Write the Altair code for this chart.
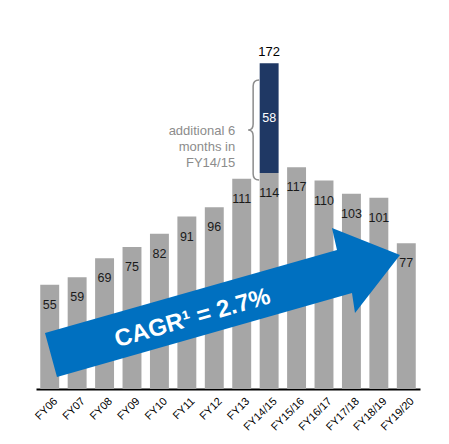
import altair as alt
import pandas as pd

categories = ["FY06", "FY07", "FY08", "FY09", "FY10", "FY11", "FY12", "FY13",
              "FY14/15", "FY15/16", "FY16/17", "FY17/18", "FY18/19", "FY19/20"]
values = [55, 59, 69, 75, 82, 91, 96, 111, 114, 117, 110, 103, 101, 77]
extra_category = ["FY14/15"]
extra_base = [114]
extra_value = [58]
extra_total = [172]
note_lines = "additional 6\nmonths in\nFY14/15"
cagr_text = "CAGR\u00b9 = 2.7%"

df = pd.DataFrame({"cat": categories, "value": values})
dfx = pd.DataFrame({"cat": extra_category, "base": extra_base,
                    "extra": extra_value, "total": extra_total})
dfx["mid"] = (dfx["base"] + dfx["total"]) / 2
dfx["note"] = note_lines
dfx["cagr"] = cagr_text

FONT = "Liberation Sans"
GRAY = "#A6A6A6"
NAVY = "#1F3864"
BLUE = "#0070C0"

xenc = alt.X("cat:N", sort=categories,
             scale=alt.Scale(paddingInner=0.31, paddingOuter=0.155),
             axis=alt.Axis(title=None, labelAngle=-45, ticks=False,
                           domainColor="black", domainWidth=2,
                           labelColor="black", labelFontSize=11, labelFont=FONT,
                           labelPadding=6, labelOffset=2))
yscale = alt.Scale(domain=[0, 180])

base = alt.Chart(df)
bars = base.mark_bar(color=GRAY).encode(
    x=xenc, y=alt.Y("value:Q", scale=yscale, axis=None))
labels = base.mark_text(baseline="middle", dy=20, fontSize=12.5, font=FONT,
                        color="#1a1a1a").encode(
    x=alt.X("cat:N", sort=categories), y=alt.Y("value:Q"), text="value:Q")

ex = alt.Chart(dfx)
navy = ex.mark_bar(color=NAVY).encode(
    x=alt.X("cat:N", sort=categories), y="base:Q", y2="total:Q")
lbl58 = ex.mark_text(color="white", fontSize=12.5, font=FONT, baseline="middle").encode(
    x=alt.X("cat:N", sort=categories), y="mid:Q", text="extra:Q")
lbl172 = ex.mark_text(color="black", fontSize=13, font=FONT, baseline="bottom", dy=-4).encode(
    x=alt.X("cat:N", sort=categories), y="total:Q", text="total:Q")

brace_path = "M 6 -50 Q 0 -50 0 -44 L 0 -6 Q 0 0 -5 0 Q 0 0 0 6 L 0 44 Q 0 50 6 50"
brace = ex.mark_point(shape=brace_path, size=4, filled=False, opacity=1,
                      stroke="#8C8C8C", strokeWidth=1.5, xOffset=-16).encode(
    x=alt.X("cat:N", sort=categories), y=alt.datum(136.7))
note = ex.mark_text(align="right", baseline="middle", fontSize=13, font=FONT,
                    color="#8C8C8C", lineBreak="\n", lineHeight=16, dx=-34).encode(
    x=alt.X("cat:N", sort=categories), y=alt.datum(136), text="note:N")

arrow_path = ("M -177 31 L 115 -52 L 110 -74 L 178 -47 L 133 11 "
              "L 130 -9 L -165 75 Z")
arrow = ex.mark_point(shape=arrow_path, size=4, filled=True, opacity=1,
                      fill=BLUE, strokeWidth=0, xOffset=7.7).transform_calculate(
    anchor="'FY12'").encode(
    x=alt.X("anchor:N", sort=categories), y=alt.datum(45.9))
cagr = ex.mark_text(color="white", fontSize=24, fontWeight="bold", font=FONT,
                    angle=344, baseline="middle", align="center", dx=6).transform_calculate(
    anchor="'FY11'").encode(
    x=alt.X("anchor:N", sort=categories), y=alt.datum(36.4), text="cagr:N")

chart = alt.layer(bars, labels, navy, lbl58, lbl172, brace, note, arrow, cagr).properties(
    width=384, height=341,
    autosize=alt.AutoSizeParams(type="none"),
    padding={"left": 28, "top": 40, "right": 20, "bottom": 47},
).configure_view(stroke=None)

chart.save("out.html", embed_options={"renderer": "svg", "actions": False})
